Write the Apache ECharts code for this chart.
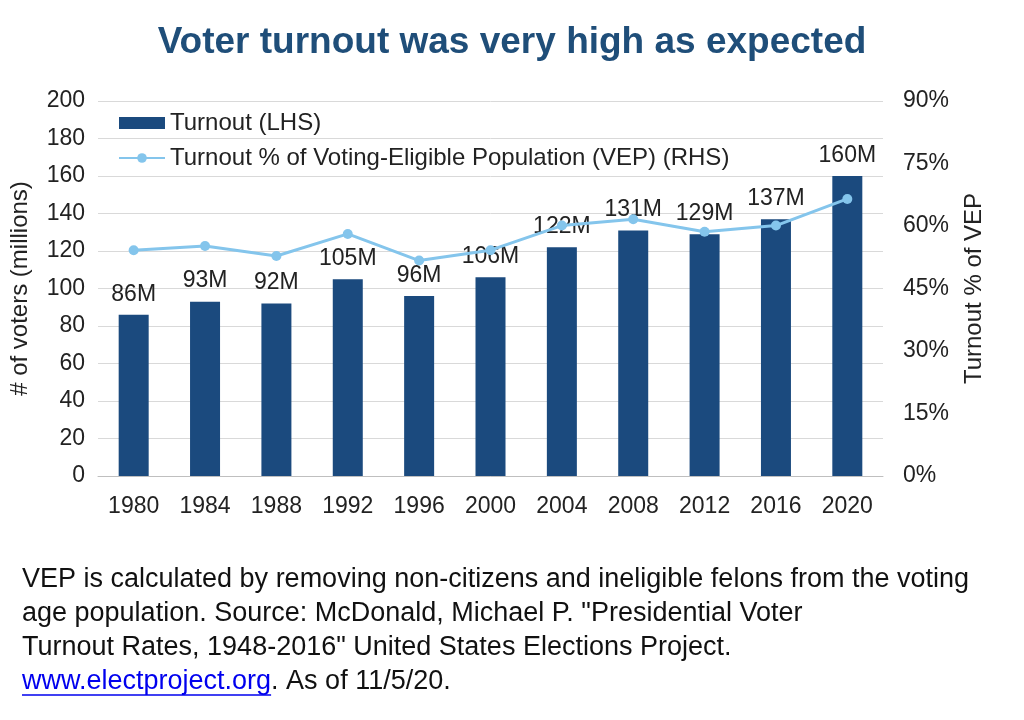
<!DOCTYPE html>
<html><head><meta charset="utf-8">
<script src="https://cdn.jsdelivr.net/npm/echarts@6/dist/echarts.min.js"></script>
<style>html,body{margin:0;padding:0;background:#fff}#c{width:1024px;height:720px}</style>
</head><body><div id="c"></div>
<script>
const years = ['1980','1984','1988','1992','1996','2000','2004','2008','2012','2016','2020'];
const turnoutMillions = [86, 93, 92, 105, 96, 106, 122, 131, 129, 137, 160];
const vepPercent = [54.2, 55.2, 52.8, 58.1, 51.7, 54.2, 60.1, 61.6, 58.6, 60.1, 66.5];
const leftTicks = [0, 200, 20];
const rightTicks = [0, 90, 15];
const footLines = [
  'VEP is calculated by removing non-citizens and ineligible felons from the voting',
  'age population. Source: McDonald, Michael P. "Presidential Voter',
  'Turnout Rates, 1948-2016" United States Elections Project.'
];
const linkText = 'www.electproject.org';
const F = 'Liberation Sans, Arial, sans-serif';
const FS = 24;
const FOOT = '27px ' + F;
const ctx = document.createElement('canvas').getContext('2d');
ctx.font = FOOT;
const linkW = ctx.measureText(linkText).width;
const chart = echarts.init(document.getElementById('c'));
chart.setOption({
  animation: false,
  textStyle: {fontFamily: F},
  title: {text: 'Voter turnout was very high as expected', left: 'center', top: 19,
    textStyle: {fontFamily: F, fontSize: 37, fontWeight: 'bold', color: '#1F4E79'}},
  legend: {orient: 'vertical', left: 113, top: 106, itemGap: 11, itemWidth: 46, itemHeight: 12,
    textStyle: {fontSize: FS, color: '#222', fontFamily: F},
    data: [{name: 'Turnout (LHS)', icon: 'rect'}, {name: 'Turnout % of Voting-Eligible Population (VEP) (RHS)'}]},
  grid: {left: 96, right: 141, top: 101, bottom: 244},
  xAxis: {type: 'category', data: years,
    axisLine: {lineStyle: {color: '#bfbfbf'}}, axisTick: {show: false},
    axisLabel: {fontSize: 23, color: '#222', margin: 19, fontFamily: F}},
  yAxis: [
    {type: 'value', min: leftTicks[0], max: leftTicks[1], interval: leftTicks[2],
      name: '# of voters (millions)', nameLocation: 'middle', nameGap: 66, nameRotate: 90,
      nameTextStyle: {fontSize: FS, color: '#222', fontFamily: F},
      axisLine: {show: false}, axisTick: {show: false},
      axisLabel: {fontSize: 23, color: '#222', margin: 13, fontFamily: F},
      splitLine: {lineStyle: {color: '#d9d9d9'}}},
    {type: 'value', min: rightTicks[0], max: rightTicks[1], interval: rightTicks[2],
      name: 'Turnout % of VEP', nameLocation: 'middle', nameGap: 79, nameRotate: 90,
      nameTextStyle: {fontSize: FS, color: '#222', fontFamily: F},
      axisLine: {show: false}, axisTick: {show: false}, splitLine: {show: false},
      axisLabel: {fontSize: 23, color: '#222', margin: 20, formatter: '{value}%', fontFamily: F}}
  ],
  series: [
    {name: 'Turnout (LHS)', type: 'bar', data: turnoutMillions, barWidth: 30, yAxisIndex: 0,
      itemStyle: {color: '#1B4A7E'},
      label: {show: true, position: 'top', distance: 9, fontSize: 23, color: '#222', fontFamily: F,
        formatter: p => p.value + 'M'}},
    {name: 'Turnout % of Voting-Eligible Population (VEP) (RHS)', type: 'line', data: vepPercent, yAxisIndex: 1,
      symbol: 'circle', symbolSize: 10, lineStyle: {color: '#84C5EC', width: 3},
      itemStyle: {color: '#84C5EC'}}
  ],
  graphic: footLines.map((t, i) => ({
      type: 'text', x: 22, y: 580 + i * 34, style: {text: t, font: FOOT, fill: '#111', textVerticalAlign: 'middle'}}))
    .concat([
      {type: 'text', x: 22, y: 580 + 3 * 34, style: {textVerticalAlign: 'middle', rich: {a: {fill: '#0000EE', font: FOOT}, b: {fill: '#111', font: FOOT}}, text: '{a|' + linkText + '}{b|. As of 11/5/20.}'}},
      {type: 'line', shape: {x1: 22, y1: 695, x2: 22 + linkW, y2: 695}, style: {stroke: '#0000EE', lineWidth: 1.5}}
    ])
});
</script></body></html>
